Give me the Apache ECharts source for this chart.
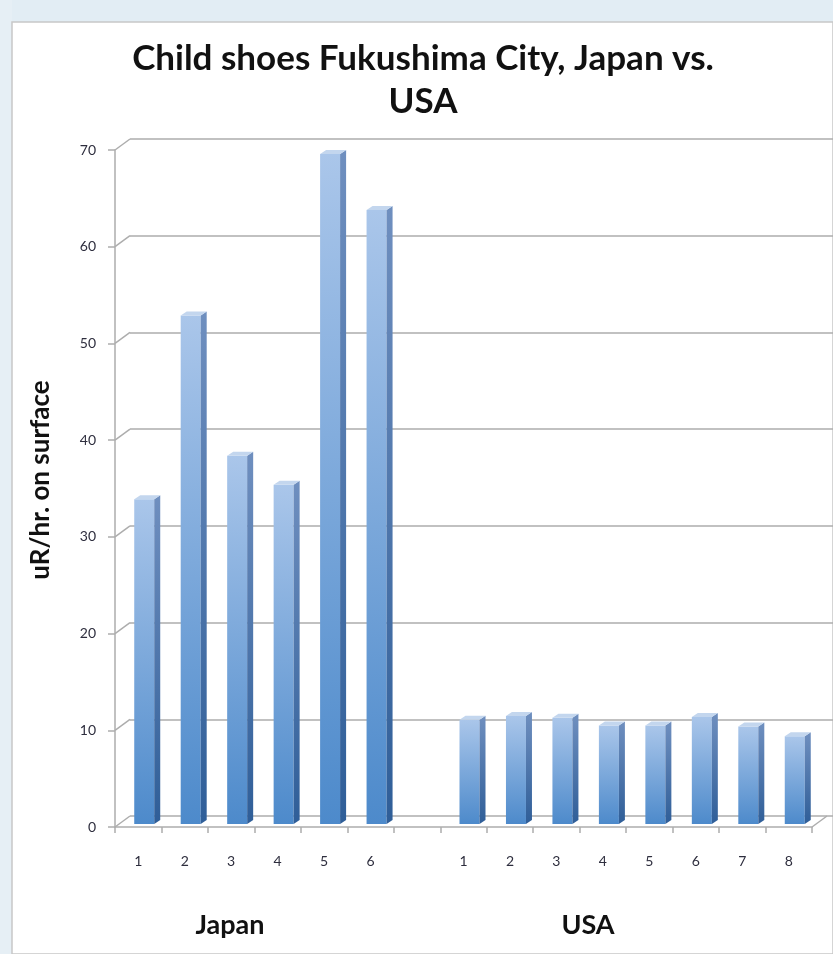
<!DOCTYPE html>
<html>
<head>
<meta charset="utf-8">
<script src="https://cdn.jsdelivr.net/npm/echarts@6/dist/echarts.min.js"></script>
<style>
  html, body { margin: 0; padding: 0; background: #ffffff; }
  #chart { width: 833px; height: 954px; }
</style>
</head>
<body>
<div id="chart"></div>
<script>
// ---- data ----
const japanLabels = ['1', '2', '3', '4', '5', '6'];
const japanValues = [34.3, 53.3, 38.8, 35.8, 70, 64.2];
const usaLabels = ['1', '2', '3', '4', '5', '6', '7', '8'];
const usaValues = [11.5, 11.9, 11.7, 10.9, 10.9, 11.8, 10.8, 9.8];
const yTicks = [0, 10, 20, 30, 40, 50, 60, 70];
const titleText = 'Child shoes Fukushima City, Japan vs.\nUSA';
const yAxisName = 'uR/hr. on surface';
const groupNames = ['Japan', 'USA'];

// categories: Japan, one empty gap slot, USA
const categories = japanLabels.concat(['']).concat(usaLabels);
const barData = [];
japanValues.forEach((v, i) => barData.push([i, v]));
usaValues.forEach((v, i) => barData.push([japanLabels.length + 1 + i, v]));

// ---- style ----
const FONT = 'Lato, "Open Sans", sans-serif';
const GRID_COLOR = '#adadad';
const DEPTH_X = 15, DEPTH_Y = 11;
const BAR_W = 20, SIDE_X = 6, SIDE_Y = 4, BAR_SHIFT_X = 6, BAR_SHIFT_Y = -3;

const chart = echarts.init(document.getElementById('chart'), null, { renderer: 'canvas' });

const option = {
  backgroundColor: '#ffffff',
  animation: false,
  graphic: [
    { type: 'rect', shape: { x: 0, y: 0, width: 833, height: 22 }, style: { fill: '#e2edf4' }, z: -10 },
    { type: 'rect', shape: { x: 0, y: 0, width: 12, height: 954 }, style: { fill: '#e6eff5' }, z: -10 },
    { type: 'rect', shape: { x: 12, y: 22, width: 821, height: 932 }, style: { fill: '#ffffff', stroke: '#c8c8c8', lineWidth: 1.5 }, z: -9 },
    { type: 'text', x: 423, y: 80, style: { text: titleText, font: 'bold 35px ' + FONT, fill: '#111', align: 'center', verticalAlign: 'middle', lineHeight: 43 } },
    { type: 'text', x: 41, y: 480, rotation: Math.PI / 2, style: { text: yAxisName, font: 'bold 26px ' + FONT, fill: '#111', align: 'center', verticalAlign: 'middle' } },
    { type: 'text', x: 230, y: 925, style: { text: groupNames[0], font: 'bold 27px ' + FONT, fill: '#111', align: 'center', verticalAlign: 'middle' } },
    { type: 'text', x: 588, y: 925, style: { text: groupNames[1], font: 'bold 27px ' + FONT, fill: '#111', align: 'center', verticalAlign: 'middle' } }
  ],
  grid: [
    { left: 115, right: 21, top: 150, bottom: 127 },                       // front (data)
    { left: 115 + DEPTH_X, right: 0, top: 150 - DEPTH_Y, bottom: 127 + DEPTH_Y } // back wall
  ],
  xAxis: [
    {
      type: 'category', gridIndex: 0, data: categories, boundaryGap: true,
      axisLine: { lineStyle: { color: GRID_COLOR, width: 1.5 } },
      axisTick: { show: true, interval: 0, length: 6, lineStyle: { color: GRID_COLOR, width: 1.5 } },
      axisLabel: { interval: 0, margin: 27, fontFamily: FONT, fontSize: 14, color: '#2e2e3e' },
      splitLine: { show: false }
    },
    {
      type: 'category', gridIndex: 1, data: categories, show: false
    }
  ],
  yAxis: [
    {
      type: 'value', gridIndex: 0, min: 0, max: 70, interval: 10,
      axisLine: { show: true, lineStyle: { color: GRID_COLOR, width: 1.5 } },
      axisTick: { show: true, length: 7, lineStyle: { color: GRID_COLOR, width: 1.5 } },
      axisLabel: { margin: 19, fontFamily: FONT, fontSize: 14, color: '#2e2e3e', padding: [8, 0, 0, 0] },
      splitLine: { show: false }
    },
    {
      type: 'value', gridIndex: 1, min: 0, max: 70, interval: 10,
      axisLine: { show: false }, axisTick: { show: false }, axisLabel: { show: false },
      splitLine: { show: true, lineStyle: { color: GRID_COLOR, width: 1.5 } }
    }
  ],
  series: [
    {
      // diagonal connectors between front axis and back wall
      type: 'custom', xAxisIndex: 0, yAxisIndex: 0, silent: true, clip: false, z: 1,
      data: yTicks.map(v => [0, v]),
      renderItem: function (params, api) {
        const cs = params.coordSys;
        const p = api.coord([0, api.value(1)]);
        const children = [{
          type: 'line',
          shape: { x1: cs.x, y1: p[1], x2: cs.x + DEPTH_X, y2: p[1] - DEPTH_Y },
          style: { stroke: GRID_COLOR, lineWidth: 1.5 }
        }];
        if (api.value(1) === 0) {
          children.push({
            type: 'line',
            shape: { x1: cs.x + cs.width, y1: p[1], x2: cs.x + cs.width + DEPTH_X, y2: p[1] - DEPTH_Y },
            style: { stroke: GRID_COLOR, lineWidth: 1.5 }
          });
        }
        return { type: 'group', children: children };
      }
    },
    {
      type: 'custom', xAxisIndex: 0, yAxisIndex: 0, clip: false, z: 5,
      data: barData,
      renderItem: function (params, api) {
        const base = api.coord([api.value(0), 0]);
        const top = api.coord([api.value(0), api.value(1)]);
        const x0 = base[0] - BAR_W / 2 + BAR_SHIFT_X;
        const yb = base[1] + BAR_SHIFT_Y;
        const yt = top[1] + SIDE_Y;
        return {
          type: 'group',
          children: [
            {
              type: 'rect',
              shape: { x: x0, y: yt, width: BAR_W, height: yb - yt },
              style: {
                fill: new echarts.graphic.LinearGradient(0, 0, 0, 1, [
                  { offset: 0, color: '#aac6ea' },
                  { offset: 1, color: '#4d8acb' }
                ])
              }
            },
            {
              type: 'polygon',
              shape: { points: [[x0 + BAR_W, yt], [x0 + BAR_W + SIDE_X, yt - SIDE_Y], [x0 + BAR_W + SIDE_X, yb - SIDE_Y], [x0 + BAR_W, yb]] },
              style: {
                fill: new echarts.graphic.LinearGradient(0, 0, 0, 1, [
                  { offset: 0, color: '#6f8fbf' },
                  { offset: 1, color: '#2f5e98' }
                ])
              }
            },
            {
              type: 'polygon',
              shape: { points: [[x0, yt], [x0 + BAR_W, yt], [x0 + BAR_W + SIDE_X, yt - SIDE_Y], [x0 + SIDE_X, yt - SIDE_Y]] },
              style: { fill: '#c3d6ee' }
            }
          ]
        };
      }
    }
  ]
};

chart.setOption(option);
</script>
</body>
</html>
